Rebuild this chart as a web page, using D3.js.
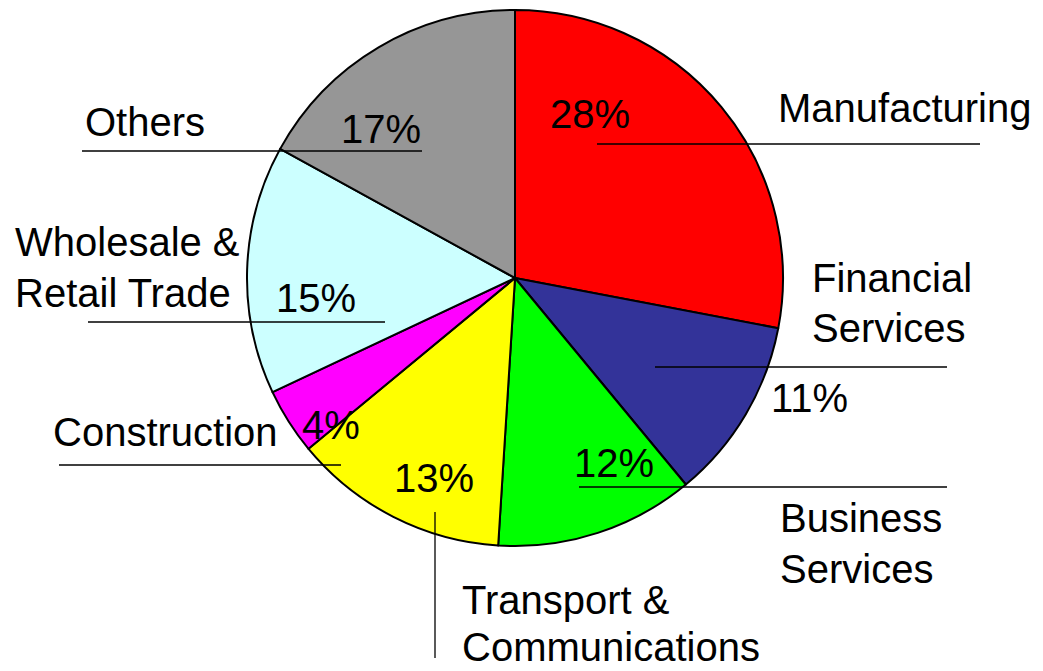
<!DOCTYPE html>
<html>
<head>
<meta charset="utf-8">
<script src="https://cdn.jsdelivr.net/npm/d3@7"></script>
<style>
  html, body { margin: 0; padding: 0; background: #fff; }
  text { font-family: "Liberation Sans", Arial, sans-serif; font-size: 40px; fill: #000; }
</style>
</head>
<body>
<svg id="chart" width="1043" height="671"></svg>
<script>
// data, clockwise from 12 o'clock
const sectors = ['Manufacturing', 'Financial Services', 'Business Services',
  'Transport & Communications', 'Construction', 'Wholesale & Retail Trade', 'Others']
const shares = [28, 11, 12, 13, 4, 15, 17]
const colours = ['#ff0000', '#333399', '#00ff00', '#ffff00', '#ff00ff', '#ccffff', '#969696']

// label text broken into lines
const labelLines = {
  'Manufacturing': ['Manufacturing'],
  'Financial Services': ['Financial', 'Services'],
  'Business Services': ['Business', 'Services'],
  'Transport & Communications': ['Transport &', 'Communications'],
  'Construction': ['Construction'],
  'Wholesale & Retail Trade': ['Wholesale &', 'Retail Trade'],
  'Others': ['Others'],
}

// hand placed layout (name x/y, pct x/y, leader line)
const layout = {
  'Manufacturing': { nx: 778, ny: [122], px: 550, py: 128, line: [597, 144, 980, 144] },
  'Financial Services': { nx: 812, ny: [292, 342], px: 771, py: 412, line: [655, 367, 947, 367] },
  'Business Services': { nx: 780, ny: [532, 583], px: 574, py: 477, line: [579, 487, 947, 487] },
  'Transport & Communications': { nx: 462, ny: [614, 661], px: 394, py: 492, line: [435, 512, 435, 658] },
  'Construction': { nx: 53, ny: [446], px: 302, py: 439, line: [59, 465, 341, 465] },
  'Wholesale & Retail Trade': { nx: 15, ny: [256, 307], px: 276, py: 312, line: [88, 322, 385, 322] },
  'Others': { nx: 85, ny: [136], px: 341, py: 143, line: [82, 151, 422, 151] },
}

const cx = 515, cy = 278, r = 268

const svg = d3.select('#chart')

const pie = d3.pie().sort(null).value(d => d.value)
const arc = d3.arc().innerRadius(0).outerRadius(r)

const rows = sectors.map((name, i) => ({ name, value: shares[i], colour: colours[i] }))

const g = svg.append('g').attr('transform', `translate(${cx},${cy})`)
g.selectAll('path.slice')
  .data(pie(rows))
  .join('path')
    .attr('class', 'slice')
    .attr('d', arc)
    .attr('fill', d => d.data.colour)
    .attr('stroke', '#000')
    .attr('stroke-width', 2)
    .attr('stroke-linejoin', 'round')

// leader lines
svg.append('g').selectAll('line')
  .data(rows)
  .join('line')
    .attr('x1', d => layout[d.name].line[0])
    .attr('y1', d => layout[d.name].line[1])
    .attr('x2', d => layout[d.name].line[2])
    .attr('y2', d => layout[d.name].line[3])
    .attr('stroke', '#000')
    .attr('stroke-width', 1.3)

// percentages
svg.append('g').selectAll('text')
  .data(rows)
  .join('text')
    .attr('x', d => layout[d.name].px)
    .attr('y', d => layout[d.name].py)
    .text(d => `${d.value}%`)

// category names
const names = svg.append('g').selectAll('text')
  .data(rows)
  .join('text')
names.selectAll('tspan')
  .data(d => labelLines[d.name].map((t, i) => ({ t, x: layout[d.name].nx, y: layout[d.name].ny[i] })))
  .join('tspan')
    .attr('x', d => d.x)
    .attr('y', d => d.y)
    .text(d => d.t)
</script>
</body>
</html>
